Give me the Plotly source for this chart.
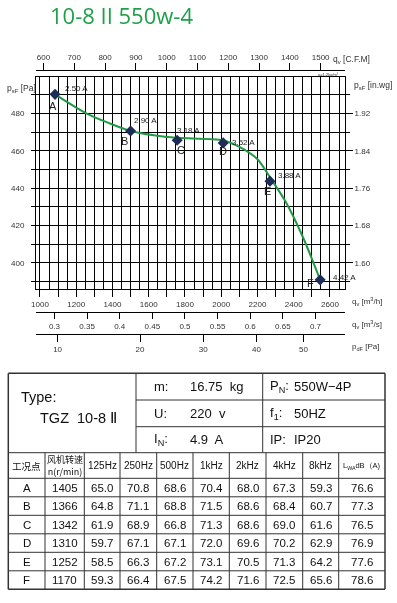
import plotly.graph_objects as go

W, H = 397, 603
def px(x): return x / W
def py(y): return 1 - y / H

# ---------------- data ----------------
point_names = ['A', 'B', 'C', 'D', 'E', 'F']
q_points = [1083, 1500, 1757, 2011, 2269, 2546]          # m3/h
p_points = [490.3, 470.7, 465.7, 464.3, 443.8, 390.9]    # Pa
currents = ['2.50 A', '2.90 A', '3.18 A', '3.52 A', '3.88 A', '4.42 A']

curve_q = [1083, 1258, 1386, 1500, 1628, 1757, 2011, 2103, 2200, 2278, 2360, 2450, 2546]
curve_p = [490.3, 480.0, 474.7, 470.7, 468.4, 467.0, 465.6, 462.0, 455.5, 444.5, 432.0, 414.0, 390.9]

x_m3h_ticks = [1000, 1200, 1400, 1600, 1800, 2000, 2200, 2400, 2600]
x_m3h_mid_ticks = [1100, 1300, 1500, 1700, 1900, 2100, 2300, 2500]
x_m3h_grid = [1050, 1100, 1150, 1250, 1300, 1350, 1450, 1500, 1550, 1650, 1700, 1750, 1850, 1900, 1950,
              2050, 2100, 2150, 2250, 2300, 2350, 2450, 2500, 2550, 2650]
x_cfm_ticks = [600, 700, 800, 900, 1000, 1100, 1200, 1300, 1400, 1500]
x_m3s_ticks = [0.3, 0.35, 0.4, 0.45, 0.5, 0.55, 0.6, 0.65, 0.7]
x_m3s_labels = ['0.3', '0.35', '0.4', '0.45', '0.5', '0.55', '0.6', '0.65', '0.7']
pdf_ticks = [10, 20, 30, 40, 50]
y_pa_ticks = [400, 420, 440, 460, 480]
y_pa_minor = [390, 410, 430, 450, 470, 490]
y_inwg_labels = ['1.60', '1.68', '1.76', '1.84', '1.92']

# table data
tbl_points = ['A', 'B', 'C', 'D', 'E', 'F']
speed = [1405, 1366, 1342, 1310, 1252, 1170]
f125 = ['65.0', '64.8', '61.9', '59.7', '58.5', '59.3']
f250 = ['70.8', '71.1', '68.9', '67.1', '66.3', '66.4']
f500 = ['68.6', '68.8', '66.8', '67.1', '67.2', '67.5']
f1k = ['70.4', '71.5', '71.3', '72.0', '73.1', '74.2']
f2k = ['68.0', '68.6', '68.6', '69.6', '70.5', '71.6']
f4k = ['67.3', '68.4', '69.0', '70.2', '71.3', '72.5']
f8k = ['59.3', '60.7', '61.6', '62.9', '64.2', '65.6']
lwa = ['76.6', '77.3', '76.5', '76.9', '77.6', '78.6']
headers = ['工况点', '风机转速<br>n(r/min)', '125Hz', '250Hz', '500Hz', '1kHz', '2kHz', '4kHz', '8kHz',
           'L<sub>WA</sub>dB（A)']

# ---------------- scales ----------------
X_RANGE = [978, 2683]
Y_RANGE = [386, 499.6]
M3H_TO_CFM = 0.58858
K_DYN = 347.0  # q[m3/h] = K * sqrt(p_dF)

FONT = 'Liberation Sans, Arial, sans-serif'
AX_FONT = dict(family=FONT, size=8, color='#333')

fig = go.Figure()

fig.add_trace(go.Scatter(x=curve_q, y=curve_p, mode='lines',
                         line=dict(color='#1e9a45', width=2, shape='spline', smoothing=0.8),
                         hoverinfo='skip', showlegend=False))
fig.add_trace(go.Scatter(x=q_points, y=p_points, mode='markers',
                         marker=dict(symbol='diamond', size=8.5, color='#1d2b57'), showlegend=False))

# invisible traces to activate extra axes
for xa, xs, ya in [('x2', [q * M3H_TO_CFM for q in q_points], 'y'),
                   ('x3', [q / 3600 for q in q_points], 'y'),
                   ('x4', q_points, 'y'),
                   ('x5', q_points, 'y'),
                   ('x', q_points, 'y2')]:
    fig.add_trace(go.Scatter(x=xs, y=p_points, xaxis=xa, yaxis=ya, mode='markers',
                             opacity=0, showlegend=False, hoverinfo='skip'))

dom_x = [px(36), px(345)]
dom_y = [py(289), py(77)]

fig.update_layout(
    template='none',
    width=W, height=H, margin=dict(l=0, r=0, t=0, b=0, pad=0, autoexpand=False),
    paper_bgcolor='white', plot_bgcolor='white',
    xaxis=dict(domain=dom_x, range=X_RANGE, anchor='y', tickmode='array', tickvals=x_m3h_ticks,
               ticks='outside', ticklen=7, tickcolor='black', tickwidth=1, automargin=False,
               showline=True, linecolor='black', linewidth=1, mirror=True,
               showgrid=True, gridcolor='black', gridwidth=1, zeroline=False,
               minor=dict(tickvals=x_m3h_grid, showgrid=True, gridcolor='black', gridwidth=1, ticks=''),
               tickfont=AX_FONT),
    xaxis5=dict(range=X_RANGE, overlaying='x', side='bottom', anchor='y', tickmode='array', automargin=False,
                tickvals=x_m3h_mid_ticks, ticks='outside', ticklen=7, tickcolor='black',
                showticklabels=False, showgrid=False, showline=False, zeroline=False),
    yaxis=dict(domain=dom_y, range=Y_RANGE, anchor='x', tickmode='array', tickvals=y_pa_ticks, automargin=False,
               ticks='outside', ticklen=4, tickcolor='black', showline=True, linecolor='black', linewidth=1,
               mirror='ticks', showgrid=True, gridcolor='black', gridwidth=1, zeroline=False,
               ticklabelstandoff=5,
               minor=dict(tickvals=y_pa_minor, showgrid=True, gridcolor='black', gridwidth=1,
                          ticks='outside', ticklen=4, tickcolor='black'),
               tickfont=AX_FONT),
    yaxis2=dict(range=Y_RANGE, overlaying='y', side='right', anchor='x', tickmode='array', tickvals=y_pa_ticks,
                ticktext=y_inwg_labels, ticks='outside', ticklen=7, tickcolor='black', showgrid=False,
                automargin=False, showline=False, zeroline=False, tickfont=AX_FONT),
    xaxis2=dict(range=[X_RANGE[0] * M3H_TO_CFM, X_RANGE[1] * M3H_TO_CFM], overlaying='x', side='top',
                anchor='free', position=py(70), tickmode='array', tickvals=x_cfm_ticks, ticks='outside',
                ticklen=7, tickcolor='black', showline=True, linecolor='black', linewidth=1, showgrid=False,
                automargin=False, zeroline=False, tickfont=AX_FONT),
    xaxis3=dict(range=[X_RANGE[0] / 3600, X_RANGE[1] / 3600], overlaying='x', side='bottom', anchor='free',
                position=py(312), tickmode='array', tickvals=x_m3s_ticks, ticktext=x_m3s_labels, ticks='outside',
                ticklen=6, tickcolor='black', showline=True, linecolor='black', linewidth=1, showgrid=False,
                automargin=False, zeroline=False, tickfont=AX_FONT),
    xaxis4=dict(range=X_RANGE, overlaying='x', side='bottom', anchor='free', position=py(334), tickmode='array',
                tickvals=[K_DYN * (p ** 0.5) for p in pdf_ticks], ticktext=[str(p) for p in pdf_ticks],
                ticks='outside', ticklen=7, tickcolor='black', showline=True, linecolor='black', linewidth=1,
                automargin=False, showgrid=False, zeroline=False, tickfont=AX_FONT),
)

ann = []
cur_shift = {'A': (8, 6), 'B': (1, 10), 'C': (-2, 10), 'D': (7, 0), 'E': (6, 6), 'F': (11, 2)}
name_shift = {'A': (-2, -12), 'B': (-6, -10), 'C': (4, -10), 'D': (0, -8), 'E': (-2, -10), 'F': (-10, -3)}
for name, q, p, cur in zip(point_names, q_points, p_points, currents):
    dx, dy = cur_shift[name]
    ann.append(dict(x=q, y=p, xref='x', yref='y', text=cur, showarrow=False, xanchor='left', yanchor='middle',
                    xshift=dx, yshift=dy, font=dict(family=FONT, size=8, color='#222')))
    dx, dy = name_shift[name]
    ann.append(dict(x=q, y=p, xref='x', yref='y', text=name, showarrow=False, xanchor='center', yanchor='middle',
                    xshift=dx, yshift=dy, font=dict(family=FONT, size=11, color='#222')))

def txt(x, y, s, size=9, anchor='left', color='#333', family=FONT):
    ann.append(dict(x=px(x), y=py(y), xref='paper', yref='paper', text=s, showarrow=False, xanchor=anchor,
                    yanchor='middle', font=dict(family=family, size=size, color=color)))

# title
txt(48, 15, '10-8 II 550w-4', size=22, color='#1fa04a', family='Open Sans, sans-serif')
# axis titles
txt(331, 60, 'q<sub>v</sub> [C.F.M]', size=8.5)
txt(5, 88, 'p<sub>sF</sub> [Pa]', size=8.5)
txt(352, 85, 'p<sub>sF</sub> [in.wg]', size=8.5)
txt(350, 301, 'q<sub>v</sub> [m<sup>3</sup>/h]', size=8)
txt(350, 324, 'q<sub>v</sub> [m<sup>3</sup>/s]', size=8)
txt(350, 347, 'p<sub>dF</sub> [Pa]', size=8)
txt(316, 74, 'ρ=1.2kg/m³', size=4)

# ---------------- table ----------------
shapes = []
LC = '#333'
def hline(x0, x1, y, w=1):
    shapes.append(dict(type='line', xref='paper', yref='paper', x0=px(x0), x1=px(x1), y0=py(y), y1=py(y),
                       line=dict(color=LC, width=w)))
def vline(x, y0, y1, w=1):
    shapes.append(dict(type='line', xref='paper', yref='paper', x0=px(x), x1=px(x), y0=py(y0), y1=py(y1),
                       line=dict(color=LC, width=w)))

TL, TR = 8.3, 385
T_TOP = 373.3
top_rows = [373.3, 400, 426.7, 452.7]
HDR_BOT = 478.3
ROW_H = 18.5
cols = [8.3, 45, 84.3, 120, 156.7, 193, 229.3, 266, 302.7, 338.7, 385]
T_BOT = HDR_BOT + ROW_H * len(tbl_points)

hline(TL, TR, T_TOP, 1.5)
hline(TL, TR, T_BOT, 1.5)
vline(TL, T_TOP, T_BOT, 1.5)
vline(TR, T_TOP, T_BOT, 1.5)
hline(136, TR, top_rows[1])
hline(136, TR, top_rows[2])
hline(TL, TR, top_rows[3])
vline(136, T_TOP, top_rows[3])
vline(262.7, T_TOP, top_rows[3])
hline(TL, TR, HDR_BOT)
for i in range(1, len(tbl_points)):
    hline(TL, TR, HDR_BOT + ROW_H * i)
for c in cols[1:-1]:
    vline(c, top_rows[3], T_BOT)

# top block text
txt(19, 397, 'Type:', size=14.5, color='#111')
txt(38, 418, 'TGZ  10-8 Ⅱ', size=14.5, color='#111')
row_c = [(top_rows[i] + top_rows[i + 1]) / 2 for i in range(3)]
mid_labels = ['m:', 'U:', 'I<sub>N</sub>:']
mid_values = ['16.75  kg', '220  v', '4.9  A']
right_labels = ['P<sub>N</sub>:', 'f<sub>1</sub>:', 'IP:']
right_values = ['550W−4P', '50HZ', 'IP20']
for yc, a, b, c, d in zip(row_c, mid_labels, mid_values, right_labels, right_values):
    txt(152, yc, a, size=13, color='#111')
    txt(188, yc, b, size=13, color='#111')
    txt(268, yc, c, size=13, color='#111')
    txt(292, yc, d, size=13, color='#111')

# header text
hdr_c = (top_rows[3] + HDR_BOT) / 2
col_c = [(cols[i] + cols[i + 1]) / 2 for i in range(len(cols) - 1)]
for i, h in enumerate(headers):
    size = 10
    fam = FONT
    if i == 0:
        size, fam = 9.5, 'Noto Sans CJK SC, sans-serif'
    elif i == 1:
        size, fam = 9, 'Noto Sans CJK SC, sans-serif'
    elif i == 9:
        size = 7.5
    ann.append(dict(x=px(col_c[i]), y=py(hdr_c), xref='paper', yref='paper', text=h, showarrow=False,
                    xanchor='center', yanchor='middle', font=dict(family=fam, size=size, color='#111')))

cols_data = [tbl_points, [str(s) for s in speed], f125, f250, f500, f1k, f2k, f4k, f8k, lwa]
for r in range(len(tbl_points)):
    yc = HDR_BOT + ROW_H * (r + 0.5)
    for ci, col in enumerate(cols_data):
        ann.append(dict(x=px(col_c[ci]), y=py(yc), xref='paper', yref='paper', text=col[r], showarrow=False,
                        xanchor='center', yanchor='middle', font=dict(family=FONT, size=11.5, color='#111')))

fig.update_layout(annotations=ann, shapes=shapes)
fig.write_html('out.html', config={'displayModeBar': False},
               post_script="document.body.style.margin='0px';document.body.style.overflow='hidden';"
                           "document.documentElement.style.overflow='hidden';")
